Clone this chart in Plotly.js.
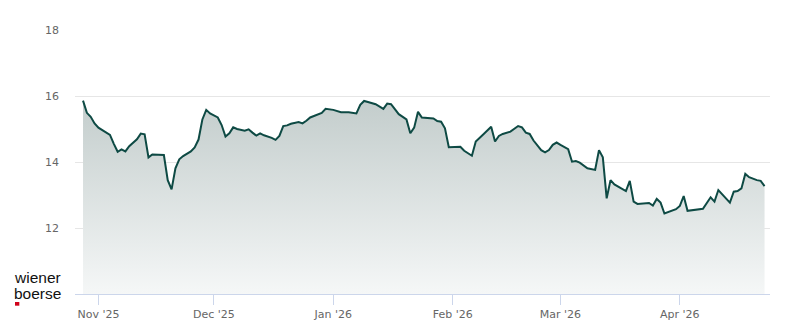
<!DOCTYPE html>
<html>
<head>
<meta charset="utf-8">
<script src="https://cdn.plot.ly/plotly-3.0.1.min.js"></script>
<style>
  html, body { margin: 0; padding: 0; background: #ffffff; }
  #chart { width: 800px; height: 324px; }
</style>
</head>
<body>
<div id="chart"></div>
<script>
const dates = [
  "2025-10-28","2025-10-29","2025-10-30","2025-10-31","2025-11-01","2025-11-02","2025-11-04","2025-11-05",
  "2025-11-06","2025-11-07","2025-11-08","2025-11-09","2025-11-11","2025-11-12","2025-11-13","2025-11-14",
  "2025-11-15","2025-11-18","2025-11-19","2025-11-20","2025-11-21","2025-11-22","2025-11-23","2025-11-25",
  "2025-11-26","2025-11-27","2025-11-28","2025-11-29","2025-11-30","2025-12-02","2025-12-03","2025-12-04",
  "2025-12-05","2025-12-06","2025-12-07","2025-12-09","2025-12-10","2025-12-11","2025-12-12","2025-12-13",
  "2025-12-14","2025-12-16","2025-12-17","2025-12-18","2025-12-19","2025-12-20","2025-12-21","2025-12-23",
  "2025-12-24","2025-12-25","2025-12-26","2025-12-29","2025-12-30","2026-01-01","2026-01-03","2026-01-05",
  "2026-01-07","2026-01-08","2026-01-09","2026-01-10","2026-01-12","2026-01-14","2026-01-15","2026-01-16",
  "2026-01-17","2026-01-18","2026-01-20","2026-01-21","2026-01-22","2026-01-23","2026-01-24","2026-01-25",
  "2026-01-27","2026-01-28","2026-01-29","2026-01-30","2026-01-31","2026-02-03","2026-02-04","2026-02-06",
  "2026-02-07","2026-02-09","2026-02-11","2026-02-12","2026-02-13","2026-02-14","2026-02-16","2026-02-18",
  "2026-02-19","2026-02-20","2026-02-21","2026-02-22","2026-02-24","2026-02-25","2026-02-26","2026-02-27",
  "2026-02-28","2026-03-01","2026-03-03","2026-03-04","2026-03-05","2026-03-06","2026-03-07","2026-03-08",
  "2026-03-10","2026-03-11","2026-03-12","2026-03-13","2026-03-14","2026-03-15","2026-03-18","2026-03-19",
  "2026-03-20","2026-03-21","2026-03-24","2026-03-25","2026-03-26","2026-03-27","2026-03-28","2026-03-31",
  "2026-04-01","2026-04-02","2026-04-03","2026-04-07","2026-04-09","2026-04-10","2026-04-11","2026-04-13",
  "2026-04-14","2026-04-15","2026-04-16","2026-04-17","2026-04-18","2026-04-19","2026-04-21","2026-04-22",
  "2026-04-23"
];
const prices = [
  15.86,15.49,15.37,15.17,15.04,14.96,14.82,14.55,
  14.31,14.38,14.32,14.48,14.69,14.86,14.84,14.14,
  14.23,14.21,13.45,13.17,13.81,14.08,14.18,14.32,
  14.44,14.68,15.29,15.58,15.47,15.35,15.12,14.77,
  14.87,15.05,15.00,14.95,14.99,14.89,14.80,14.87,
  14.81,14.73,14.67,14.79,15.09,15.11,15.16,15.21,
  15.17,15.25,15.35,15.49,15.61,15.58,15.51,15.51,
  15.47,15.73,15.85,15.82,15.75,15.61,15.77,15.75,
  15.60,15.45,15.29,14.87,15.04,15.52,15.35,15.34,
  15.32,15.24,15.22,15.02,14.45,14.46,14.34,14.19,
  14.62,14.84,15.07,14.62,14.79,14.85,14.92,15.09,
  15.05,14.89,14.85,14.65,14.36,14.29,14.36,14.52,
  14.59,14.52,14.39,14.01,14.03,13.98,13.89,13.81,
  13.76,14.36,14.14,12.90,13.45,13.32,13.12,13.43,
  12.80,12.73,12.76,12.68,12.88,12.77,12.44,12.57,
  12.67,12.97,12.52,12.58,12.93,12.80,13.15,12.90,
  12.77,13.10,13.12,13.20,13.64,13.54,13.45,13.43,
  13.27
];
const yTicks = [12, 14, 16, 18];
const xTickDates = ["2025-11-01","2025-12-01","2026-01-01","2026-02-01","2026-03-01","2026-04-01"];
const xTickLabels = ["Nov '25","Dec '25","Jan '26","Feb '26","Mar '26","Apr '26"];
const logoLines = ["wiener", "boerse"];

const trace = {
  x: dates,
  y: prices,
  type: "scatter",
  mode: "lines",
  line: { color: "#0e4a44", width: 2 },
  fill: "tozeroy",
  fillgradient: {
    type: "vertical",
    start: 10,
    stop: 16,
    colorscale: [[0, "rgba(245,247,247,1)"], [1, "rgba(194,204,203,1)"]]
  },
  hoverinfo: "x+y"
};

const logoFont = { family: "Liberation Sans, Arial, sans-serif", size: 15.5, color: "#111111" };

const layout = {
  width: 800,
  height: 324,
  margin: { l: 75, r: 30, t: 30, b: 30 },
  paper_bgcolor: "#ffffff",
  plot_bgcolor: "#ffffff",
  showlegend: false,
  font: { family: "DejaVu Sans, sans-serif", size: 11, color: "#666666" },
  xaxis: {
    type: "date",
    range: ["2025-10-25 22:00", "2026-04-24 10:00"],
    tickmode: "array",
    tickvals: xTickDates,
    ticktext: xTickLabels,
    showgrid: false,
    zeroline: false,
    showline: true,
    linecolor: "#ccd6eb",
    linewidth: 1,
    ticks: "outside",
    ticklen: 10,
    tickcolor: "#ccd6eb",
    tickwidth: 1,
    tickfont: { family: "DejaVu Sans, sans-serif", size: 11, color: "#666666" }
  },
  yaxis: {
    range: [10, 18],
    tickmode: "array",
    tickvals: yTicks,
    ticktext: yTicks.map(String),
    showgrid: true,
    gridcolor: "#e6e6e6",
    gridwidth: 1,
    zeroline: false,
    showline: false,
    ticks: "",
    ticklabelstandoff: 15,
    tickfont: { family: "DejaVu Sans, sans-serif", size: 11, color: "#666666" }
  },
  annotations: [
    {
      xref: "paper", yref: "paper",
      x: -0.0886, y: 0.0625,
      xanchor: "left", yanchor: "middle",
      text: logoLines[0],
      showarrow: false,
      borderpad: 0,
      font: logoFont
    },
    {
      xref: "paper", yref: "paper",
      x: -0.0886, y: 0.0015,
      xanchor: "left", yanchor: "middle",
      text: logoLines[1],
      showarrow: false,
      borderpad: 0,
      font: logoFont
    }
  ],
  shapes: [
    {
      type: "rect",
      xref: "paper", yref: "paper",
      x0: -0.0863, x1: -0.0801, y0: -0.0303, y1: -0.0443,
      fillcolor: "#d0021b",
      line: { width: 0 }
    }
  ]
};

Plotly.newPlot("chart", [trace], layout, { displayModeBar: false, staticPlot: true });
</script>
</body>
</html>
